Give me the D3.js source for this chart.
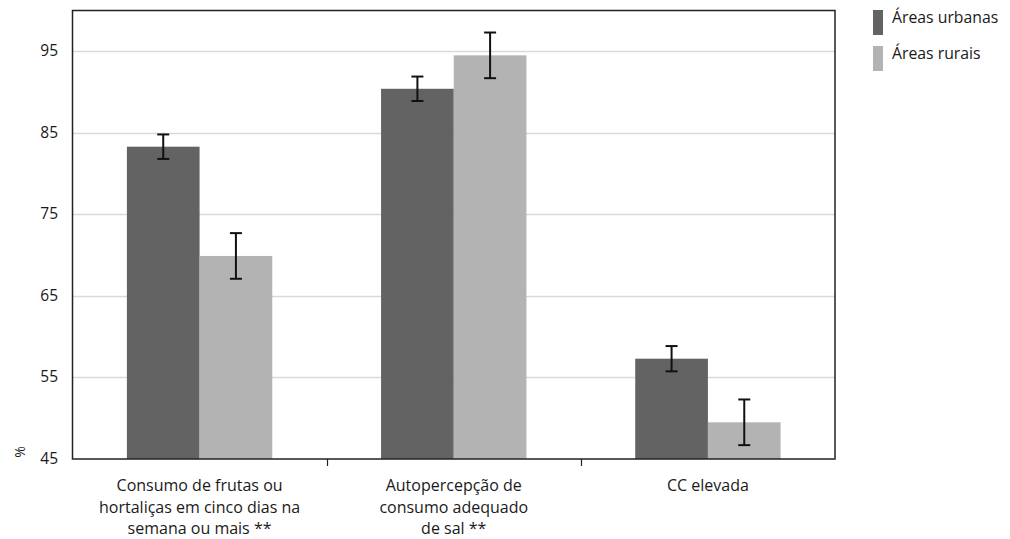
<!DOCTYPE html>
<html>
<head>
<meta charset="utf-8">
<script src="https://cdn.jsdelivr.net/npm/d3@7"></script>
<style>
  body { margin: 0; background: white; }
  text { font-family: "Open Sans", sans-serif; fill: #1a1a1a; }
</style>
</head>
<body>
<div id="chart"></div>
<script>
var categories = [
  ["Consumo de frutas ou", "hortaliças em cinco dias na", "semana ou mais **"],
  ["Autopercepção de", "consumo adequado", "de sal **"],
  ["CC elevada"]
];
var seriesNames = ["Áreas urbanas", "Áreas rurais"];
var urbanValues = [83.3, 90.4, 57.3];
var urbanErrors = [1.5, 1.5, 1.55];
var ruralValues = [69.9, 94.5, 49.5];
var ruralErrors = [2.8, 2.8, 2.8];
var yTicks = [45, 55, 65, 75, 85, 95];

var colors = ["#636363", "#b3b3b3"];

var W = 1010, H = 539;
var margin = { left: 72.5, right: 175, top: 10.5, bottom: 80 };

var svg = d3.select("#chart").append("svg")
  .attr("width", W)
  .attr("height", H);

var x0 = d3.scaleBand()
  .domain(d3.range(categories.length))
  .range([margin.left, W - margin.right]);

var x1 = d3.scaleBand()
  .domain([0, 1])
  .range([0, x0.bandwidth() * 0.572]);

var y = d3.scaleLinear()
  .domain([45, 100])
  .range([459, margin.top]);

// grid
svg.append("g").selectAll("line").data(yTicks.slice(1)).enter().append("line")
  .attr("x1", margin.left)
  .attr("x2", W - margin.right)
  .attr("y1", function (d) { return Math.round(y(d)) + 0.5; })
  .attr("y2", function (d) { return Math.round(y(d)) + 0.5; })
  .attr("stroke", "#d9d9d9")
  .attr("stroke-width", 1.5);

// bars
var data = categories.map(function (c, i) {
  return [
    { s: 0, v: urbanValues[i], e: urbanErrors[i] },
    { s: 1, v: ruralValues[i], e: ruralErrors[i] }
  ];
});

var groups = svg.append("g").selectAll("g").data(data).enter().append("g")
  .attr("transform", function (d, i) {
    return "translate(" + (x0(i) + (x0.bandwidth() - x1.range()[1]) / 2) + ",0)";
  });

groups.selectAll("rect").data(function (d) { return d; }).enter().append("rect")
  .attr("x", function (d) { return x1(d.s); })
  .attr("width", x1.bandwidth())
  .attr("y", function (d) { return y(d.v); })
  .attr("height", function (d) { return y(45) - y(d.v); })
  .attr("fill", function (d) { return colors[d.s]; });

// error bars
var cap = 6;
var eb = groups.selectAll("g.err").data(function (d) { return d; }).enter().append("g")
  .attr("class", "err")
  .attr("stroke", "#111")
  .attr("stroke-width", 2);
eb.append("line")
  .attr("x1", function (d) { return x1(d.s) + x1.bandwidth() / 2; })
  .attr("x2", function (d) { return x1(d.s) + x1.bandwidth() / 2; })
  .attr("y1", function (d) { return y(d.v + d.e); })
  .attr("y2", function (d) { return y(d.v - d.e); });
eb.append("line")
  .attr("x1", function (d) { return x1(d.s) + x1.bandwidth() / 2 - cap; })
  .attr("x2", function (d) { return x1(d.s) + x1.bandwidth() / 2 + cap; })
  .attr("y1", function (d) { return y(d.v + d.e); })
  .attr("y2", function (d) { return y(d.v + d.e); });
eb.append("line")
  .attr("x1", function (d) { return x1(d.s) + x1.bandwidth() / 2 - cap; })
  .attr("x2", function (d) { return x1(d.s) + x1.bandwidth() / 2 + cap; })
  .attr("y1", function (d) { return y(d.v - d.e); })
  .attr("y2", function (d) { return y(d.v - d.e); });

// frame
svg.append("rect")
  .attr("x", margin.left)
  .attr("y", margin.top)
  .attr("width", W - margin.right - margin.left)
  .attr("height", y(45) - margin.top)
  .attr("fill", "none")
  .attr("stroke", "#222")
  .attr("stroke-width", 1.5);

// group separators on x axis
svg.append("g").selectAll("line").data([1, 2]).enter().append("line")
  .attr("x1", function (d) { return Math.round(x0(d)) + 0.5; })
  .attr("x2", function (d) { return Math.round(x0(d)) + 0.5; })
  .attr("y1", y(45))
  .attr("y2", y(45) + 7)
  .attr("stroke", "#222")
  .attr("stroke-width", 1.2);

// y tick labels
svg.append("g").selectAll("text").data(yTicks).enter().append("text")
  .attr("x", 58)
  .attr("y", function (d) { return y(d) + 5; })
  .attr("text-anchor", "end")
  .style("font-size", "15.5px")
  .text(function (d) { return d; });

svg.append("text")
  .attr("transform", "translate(25,452) rotate(-90)")
  .attr("text-anchor", "middle")
  .style("font-size", "14px")
  .text("%");

// x labels
var xl = svg.append("g").selectAll("text").data(categories).enter().append("text")
  .attr("text-anchor", "middle")
  .attr("x", function (d, i) { return x0(i) + x0.bandwidth() / 2; })
  .attr("y", 491)
  .style("font-size", "16px");
xl.selectAll("tspan").data(function (d) { return d; }).enter().append("tspan")
  .attr("x", function () { return d3.select(this.parentNode).attr("x"); })
  .attr("dy", function (d, i) { return i === 0 ? 0 : 21.7; })
  .text(function (d) { return d; });

// legend
var lg = svg.append("g").selectAll("g").data(seriesNames).enter().append("g")
  .attr("transform", function (d, i) { return "translate(873," + (10 + i * 36) + ")"; });
lg.append("rect")
  .attr("width", 10)
  .attr("height", 25)
  .attr("fill", function (d, i) { return colors[i]; });
lg.append("text")
  .attr("x", 19)
  .attr("y", 13)
  .style("font-size", "15.8px")
  .text(function (d) { return d; });
</script>
</body>
</html>
